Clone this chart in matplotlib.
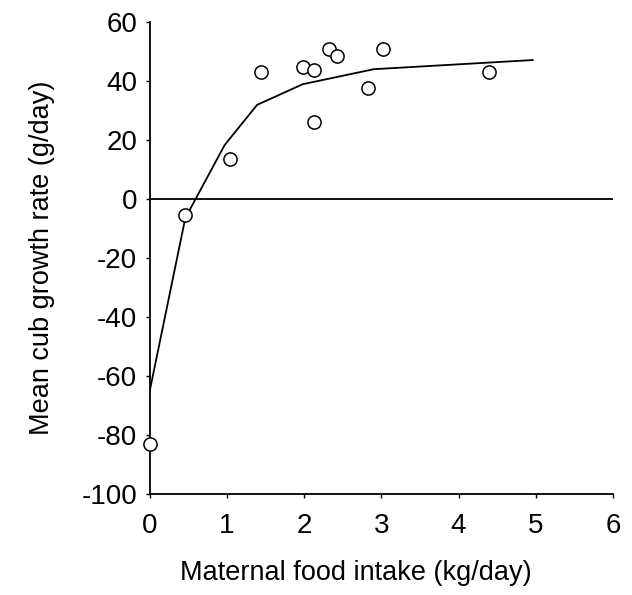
import numpy as np
import matplotlib.pyplot as plt

plt.rcParams['font.family'] = ['Liberation Sans', 'DejaVu Sans']
plt.rcParams['axes.unicode_minus'] = False

# dados
intake = [0.0, 0.46, 1.04, 1.44, 1.98, 2.13, 2.13, 2.32, 2.43, 2.83, 3.02, 4.39]
growth = [-83, -5.6, 13.4, 42.9, 44.7, 43.8, 26.1, 51, 48.5, 37.7, 51, 42.9]

# curva ajustada
fit_x = [0.0, 0.46, 0.97, 1.39, 1.98, 2.9, 4.96]
fit_y = [-65, -6.5, 18.3, 31.9, 38.9, 44.0, 47.1]

xticks = [0, 1, 2, 3, 4, 5, 6]
yticks = [-100, -80, -60, -40, -20, 0, 20, 40, 60]

fig = plt.figure(figsize=(6.32, 5.95), dpi=100)
ax = fig.add_axes([0.237, 0.170, 0.733, 0.793])

ax.axhline(0, color='black', linewidth=1.3, zorder=1)
ax.plot(fit_x, fit_y, 'k-', linewidth=1.3, zorder=2)
ax.plot(intake, growth, 'o', markersize=9.5, markerfacecolor='white',
        markeredgecolor='black', markeredgewidth=1.1, clip_on=False, zorder=3)

ax.set_xlim(0, 6)
ax.set_ylim(-100, 60)
ax.set_xticks(xticks)
ax.set_yticks(yticks)
ax.tick_params(labelsize=20, length=3, width=1, direction='out')
ax.tick_params(axis='x', pad=11)
ax.tick_params(axis='y', pad=6)

ax.spines['top'].set_visible(False)
ax.spines['right'].set_visible(False)
ax.spines['left'].set_linewidth(1.3)
ax.spines['bottom'].set_linewidth(1.3)

ax.set_xlabel('Maternal food intake (kg/day)', fontsize=19.5)
ax.set_ylabel('Mean cub growth rate (g/day)', fontsize=19.5)
ax.xaxis.set_label_coords(0.445, -0.14)
ax.yaxis.set_label_coords(-0.205, 0.5)

plt.savefig('out.png', dpi=100)
